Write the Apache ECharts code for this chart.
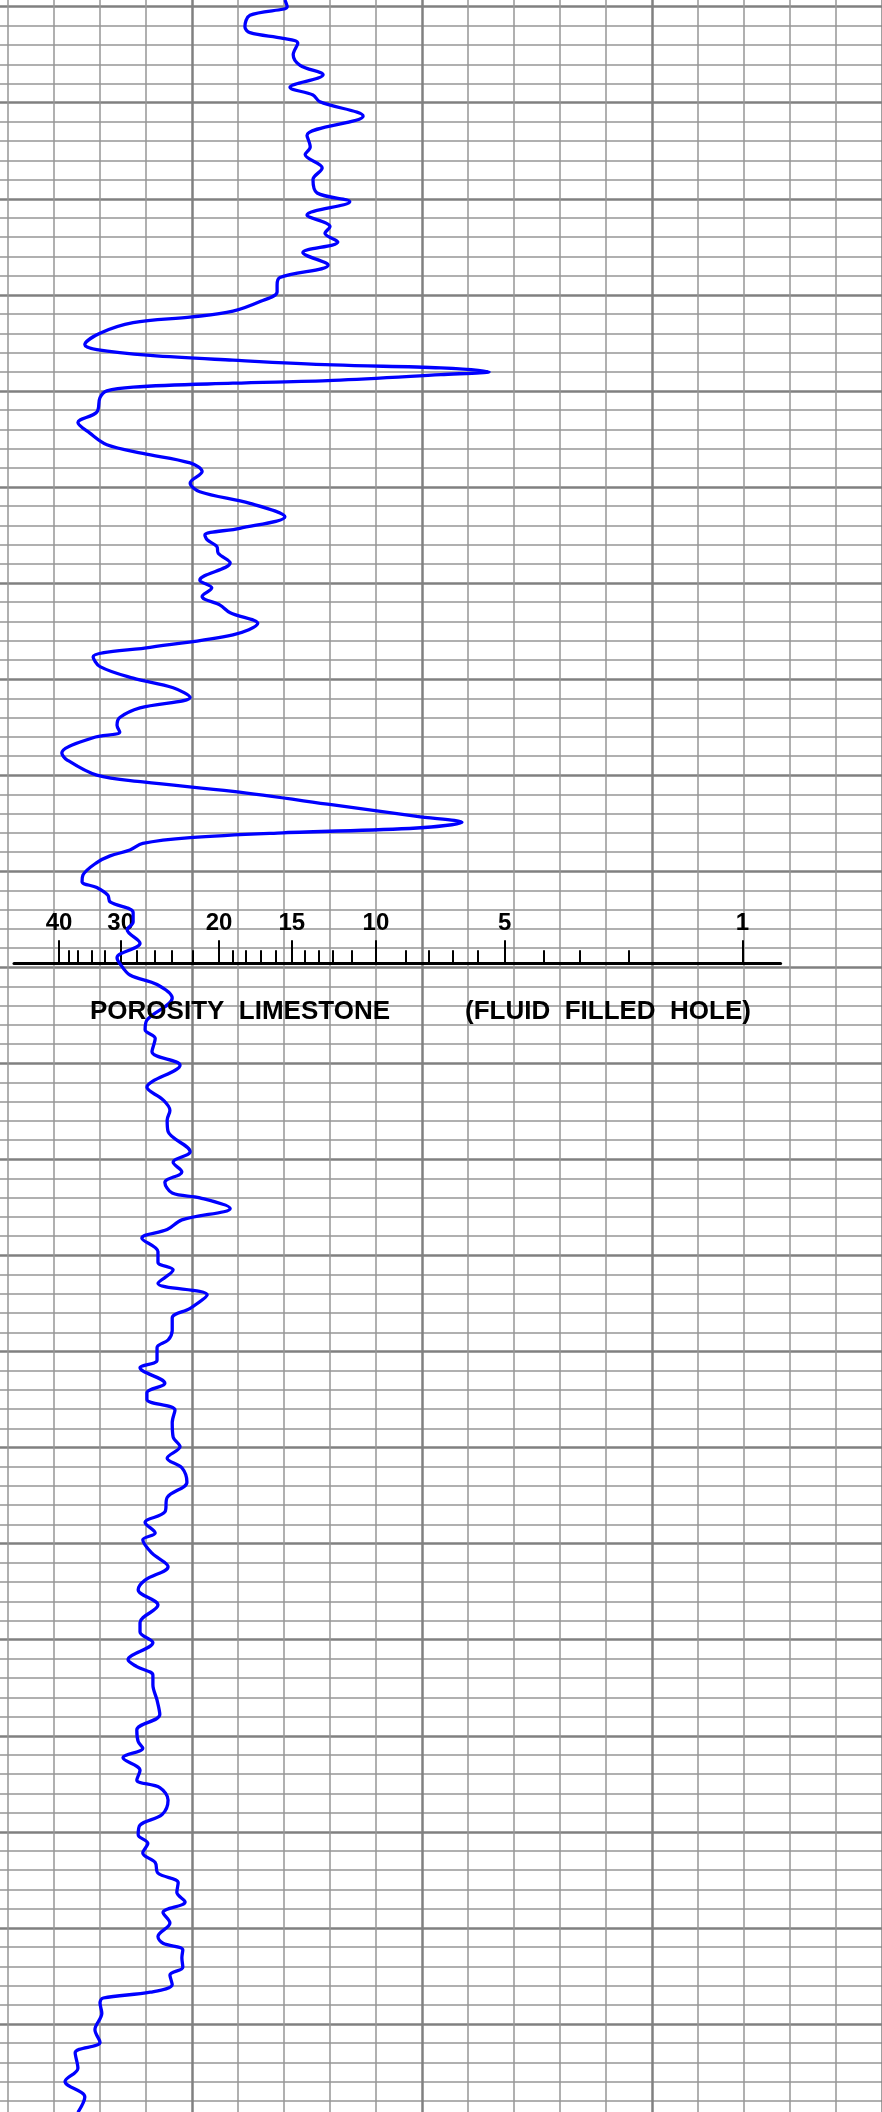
<!DOCTYPE html>
<html>
<head>
<meta charset="utf-8">
<title>Porosity log</title>
<script src="https://cdn.jsdelivr.net/npm/echarts@6/dist/echarts.min.js"></script>
<style>
  html, body { margin: 0; padding: 0; background: #fff; }
  #chart { width: 882px; height: 2112px; }
</style>
</head>
<body>
<div id="chart"></div>
<script>
// depth down the track (0 at the grid origin, 10 per heavy line)
const depth = [
  9.3, 10.0, 10.9, 12.1, 12.7, 13.3, 13.8, 15.0, 16.1, 17.1, 18.4, 19.2, 19.9, 21.4, 23.4, 24.6, 25.4, 26.8, 28.0, 29.4,
  30.3, 31.7, 32.9, 33.6, 34.5, 35.6, 36.9, 38.2, 39.0, 39.7, 40.7, 41.7, 42.3, 42.9, 44.0, 45.2, 45.7, 46.3, 46.8, 47.3,
  47.6, 48.0, 48.3, 48.9, 49.2, 49.6, 50.0, 50.7, 52.2, 53.3, 54.4, 55.6, 56.5, 57.5, 58.4, 59.6, 60.5, 61.7, 63.1, 64.3,
  65.0, 65.5, 66.2, 66.9, 67.9, 69.7, 70.5, 71.4, 72.3, 73.1, 74.2, 75.4, 76.7, 77.7, 78.7, 79.9, 80.9, 81.9, 83.0, 84.0,
  84.8, 85.5, 86.1, 87.7, 88.4, 90.0, 90.7, 91.7, 93.1, 94.3, 94.9, 95.5, 96.0, 96.5, 97.1, 97.8, 98.4, 99.1, 100.4, 101.1,
  101.7, 102.5, 103.2, 104.3, 105.3, 106.1, 107.5, 109.0, 109.6, 110.8, 111.8, 113.2, 115.5, 116.5, 117.4, 118.8, 120.2, 122.5, 123.8, 124.9,
  125.9, 127.1, 129.2, 130.3, 131.3, 132.4, 133.5, 134.0, 135.1, 136.3, 137.3, 138.2, 139.6, 140.7, 141.5, 142.9, 144.1, 145.5, 146.5, 147.8,
  148.8, 149.6, 150.9, 151.7, 153.3, 154.3, 155.0, 156.1, 157.4, 158.9, 159.9, 161.1, 162.1, 163.6, 165.2, 166.7, 167.8, 168.9, 169.6, 171.0,
  172.4, 173.8, 174.8, 176.4, 178.2, 179.2, 180.3, 182.1, 182.8, 183.7, 184.7, 186.3, 187.8, 189.4, 190.6, 191.3, 192.3, 193.6, 194.6, 195.4,
  196.7, 198.2, 199.3, 200.3, 201.2, 202.2, 203.2, 204.3, 205.3, 206.3, 207.3, 208.4, 209.5, 210.9, 211.6, 212.3, 213.1, 214.1, 214.9, 215.9,
  216.7, 217.3, 217.8, 218.9, 220.6, 221.9, 223.0, 224.6, 226.0, 227.6, 229.2
]

// curve reading, track units (0-200, heavy line every 50)
const reading = [
  70.2, 70.7, 62.6, 61.5, 62.6, 69.8, 73.0, 72.0, 73.5, 78.5, 71.3, 76.3, 77.8, 87.2, 75.0, 75.7, 74.6, 78.3, 76.3, 77.2,
  84.3, 75.0, 80.0, 78.9, 81.7, 74.1, 79.6, 69.1, 68.5, 68.5, 64.8, 58.9, 50.0, 37.2, 30.0, 26.7, 29.3, 40.9, 58.9, 80.7,
  104.1, 114.6, 104.1, 80.7, 58.9, 37.2, 31.5, 30.0, 29.3, 25.2, 27.8, 31.5, 39.3, 49.6, 52.2, 49.6, 51.7, 62.6, 70.2, 60.4,
  52.8, 53.3, 55.4, 55.7, 58.3, 51.7, 54.3, 52.2, 56.1, 58.3, 64.3, 58.9, 40.9, 28.5, 30.0, 37.2, 45.9, 49.6, 38.7, 34.3,
  33.7, 34.3, 28.5, 21.7, 22.8, 29.3, 39.3, 58.9, 80.7, 98.9, 108.7, 98.9, 69.8, 49.6, 39.3, 36.5, 32.2, 29.3, 26.3, 26.1,
  29.3, 31.7, 32.2, 37.2, 37.2, 35.9, 38.7, 33.7, 34.3, 36.5, 42.4, 45.7, 40.2, 39.8, 42.0, 41.3, 47.4, 40.2, 43.7, 45.2,
  44.6, 44.8, 49.6, 45.9, 47.8, 44.1, 45.7, 51.7, 58.3, 47.8, 44.6, 39.1, 42.6, 42.6, 45.9, 42.6, 53.3, 49.6, 45.7, 45.7,
  44.8, 42.4, 42.4, 38.7, 44.1, 40.2, 40.2, 46.3, 45.7, 45.9, 47.4, 44.6, 47.8, 48.9, 44.6, 44.1, 39.8, 42.0, 39.3, 41.3,
  44.8, 39.8, 38.3, 42.6, 38.7, 38.7, 41.5, 36.1, 38.0, 41.5, 41.5, 42.4, 43.0, 38.0, 38.3, 39.3, 35.0, 38.7, 38.0, 43.0,
  44.8, 43.5, 38.7, 38.3, 40.4, 39.3, 42.0, 42.6, 47.0, 46.7, 48.5, 43.7, 45.2, 42.6, 43.7, 48.0, 47.8, 48.0, 45.2, 45.7,
  40.9, 30.7, 30.0, 30.4, 28.9, 30.0, 24.6, 25.2, 22.4, 26.7, 25.2
]

// porosity scale, where each porosity value sits on the track (track units)
const majorPorosity = [40, 30, 20, 15, 10, 5, 1]
const majorPos = [21.1, 34.5, 55.9, 71.7, 90.0, 118.0, 169.7]
const minorPorosity = [38, 36, 34, 32, 28, 26, 24, 22, 19, 18, 17, 16, 14, 13, 12, 11, 9, 8, 7, 6, 4, 3, 2]
const minorPos = [23.3, 25.2, 28.2, 31.1, 38.1, 41.8, 45.7, 50.1, 58.8, 61.7, 64.9, 68.2,
  74.6, 77.6, 80.7, 84.8, 96.5, 101.4, 106.8, 112.2, 126.6, 134.4, 145.0]

const chart = echarts.init(document.getElementById('chart'))

const labelFont = '"Liberation Sans", Arial, sans-serif'

const porosityLabel = (val) => {
  const i = majorPos.findIndex(p => Math.abs(p - val) < 0.01)
  return i >= 0 ? String(majorPorosity[i]) : ''
}

const hiddenAxis = { axisLine: { show: false }, axisTick: { show: false }, axisLabel: { show: false } }

const option = {
  animation: false,
  backgroundColor: '#ffffff',
  grid: [
    { left: -38, top: -89.4, width: 920, height: 2209.4, show: false, outerBoundsMode: 'none', containLabel: false },
    { left: 14, top: 900, width: 766.6, height: 63.3, show: false, outerBoundsMode: 'none', containLabel: false }
  ],
  xAxis: [
    {
      gridIndex: 0,
      type: 'value',
      min: 0,
      max: 200,
      interval: 50,
      ...hiddenAxis,
      splitLine: { show: true, lineStyle: { color: '#808080', width: 2.5 } },
      minorTick: { show: false, splitNumber: 5 },
      minorSplitLine: { show: true, lineStyle: { color: '#969696', width: 1.5 } }
    },
    {
      gridIndex: 1,
      type: 'value',
      min: 11.3,
      max: 178,
      position: 'bottom',
      axisLine: { show: true, lineStyle: { color: '#000', width: 3 } },
      axisTick: { show: true, inside: true, length: 13, customValues: minorPos, lineStyle: { color: '#000', width: 2 } },
      axisLabel: { show: false },
      splitLine: { show: false }
    },
    {
      gridIndex: 1,
      type: 'value',
      min: 11.3,
      max: 178,
      position: 'bottom',
      axisLine: { show: false },
      axisTick: { show: true, inside: true, length: 23, customValues: majorPos, lineStyle: { color: '#000', width: 2 } },
      axisLabel: {
        show: true,
        inside: true,
        margin: 28,
        customValues: majorPos,
        formatter: porosityLabel,
        color: '#000',
        fontSize: 24,
        fontWeight: 'bold',
        fontFamily: labelFont
      },
      splitLine: { show: false }
    }
  ],
  yAxis: [
    {
      gridIndex: 0,
      type: 'value',
      inverse: true,
      min: 0,
      max: 230,
      interval: 10,
      ...hiddenAxis,
      splitLine: { show: true, lineStyle: { color: '#808080', width: 2.5 } },
      minorTick: { show: false, splitNumber: 5 },
      minorSplitLine: { show: true, lineStyle: { color: '#969696', width: 1.5 } }
    },
    { gridIndex: 1, type: 'value', show: false }
  ],
  series: [
    {
      type: 'line',
      xAxisIndex: 0,
      yAxisIndex: 0,
      data: depth.map((d, i) => [reading[i], d]),
      smooth: 0.35,
      showSymbol: false,
      lineStyle: { color: '#0000ff', width: 3.3 },
      z: 3
    }
  ],
  graphic: [
    {
      type: 'text',
      left: 90,
      top: 999,
      z: 100,
      style: { text: 'POROSITY  LIMESTONE', font: 'bold 26px ' + labelFont, fill: '#000' }
    },
    {
      type: 'text',
      left: 465,
      top: 999,
      z: 100,
      style: { text: '(FLUID  FILLED  HOLE)', font: 'bold 26px ' + labelFont, fill: '#000' }
    }
  ]
}

chart.setOption(option)
</script>
</body>
</html>
